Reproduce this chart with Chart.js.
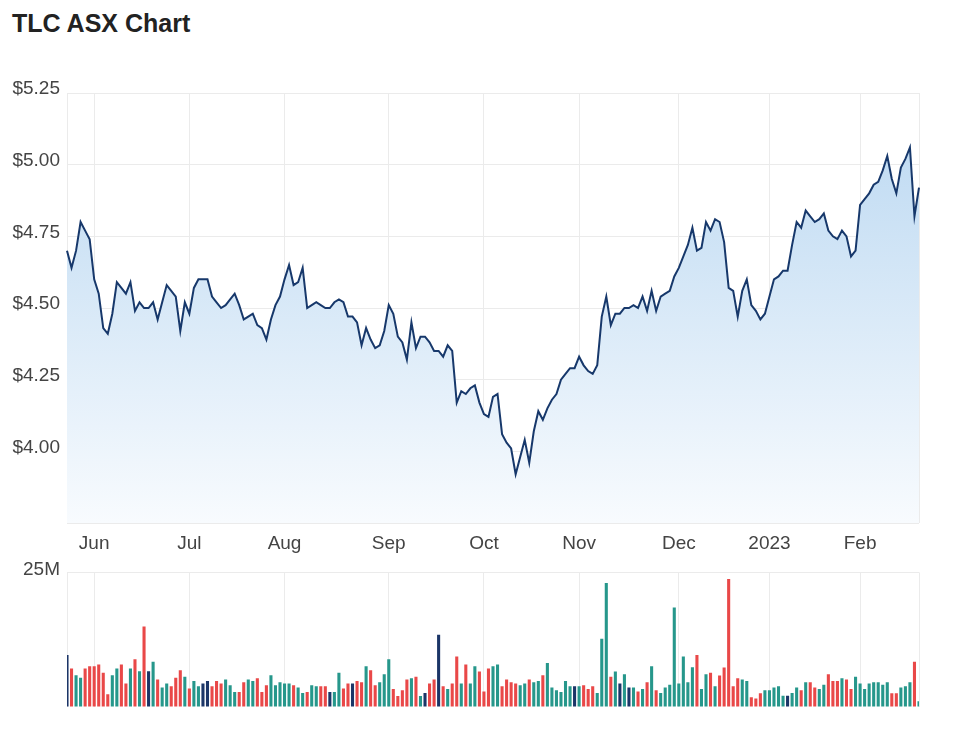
<!DOCTYPE html>
<html>
<head>
<meta charset="utf-8">
<script src="https://cdn.jsdelivr.net/npm/chart.js@4.4.1/dist/chart.umd.min.js"></script>
<style>
  body { margin: 0; background: #fff; font-family: "Liberation Sans", Arial, sans-serif; }
  #wrap { position: relative; width: 976px; height: 740px; }
  h1 { position: absolute; left: 12px; top: 11px; margin: 0; font-size: 25px; line-height: 25px; font-weight: bold; color: #222; }
  #price { position: absolute; left: 0; top: 60px; }
  #vol { position: absolute; left: 0; top: 554px; }
</style>
</head>
<body>
<div id="wrap">
  <h1>TLC ASX Chart</h1>
  <canvas id="price" width="976" height="500"></canvas>
  <canvas id="vol" width="976" height="186"></canvas>
</div>
<script>
// trading days, 24 May 2022 -> 20 Feb 2023 (ASX holidays skipped)
const startDate = "2022-05-24";
const endDate = "2023-02-20";
const holidays = ["2022-06-13", "2022-09-22", "2022-12-26", "2022-12-27", "2023-01-02", "2023-01-26"];
const monthLabels = ["Jun", "Jul", "Aug", "Sep", "Oct", "Nov", "Dec", "2023", "Feb"];

// closing price ($)
const closes = [
  4.70, 4.64, 4.70, 4.80, 4.77, 4.74, 4.60, 4.55, 4.43, 4.41,
  4.48, 4.59, 4.57, 4.55, 4.59, 4.49, 4.52, 4.50, 4.50, 4.52,
  4.46, 4.52, 4.58, 4.56, 4.54, 4.42, 4.52, 4.48, 4.57, 4.60,
  4.60, 4.60, 4.54, 4.52, 4.50, 4.51, 4.53, 4.55, 4.51, 4.46,
  4.47, 4.48, 4.44, 4.43, 4.39, 4.46, 4.51, 4.54, 4.60, 4.65,
  4.58, 4.59, 4.64, 4.50, 4.51, 4.52, 4.51, 4.50, 4.50, 4.52,
  4.53, 4.52, 4.47, 4.47, 4.45, 4.37, 4.43, 4.39, 4.36, 4.37,
  4.42, 4.51, 4.48, 4.40, 4.38, 4.32, 4.45, 4.36, 4.40, 4.40,
  4.38, 4.35, 4.35, 4.33, 4.37, 4.35, 4.17, 4.21, 4.20, 4.22,
  4.23, 4.17, 4.13, 4.12, 4.19, 4.20, 4.06, 4.03, 4.01, 3.92,
  3.98, 4.04, 3.96, 4.07, 4.14, 4.11, 4.15, 4.18, 4.20, 4.25,
  4.27, 4.29, 4.29, 4.33, 4.30, 4.28, 4.27, 4.30, 4.47, 4.54,
  4.44, 4.48, 4.48, 4.50, 4.50, 4.51, 4.50, 4.54, 4.49, 4.56,
  4.49, 4.54, 4.55, 4.56, 4.61, 4.64, 4.68, 4.72, 4.78, 4.70,
  4.71, 4.80, 4.77, 4.81, 4.80, 4.73, 4.57, 4.56, 4.47, 4.56,
  4.60, 4.51, 4.49, 4.46, 4.48, 4.54, 4.60, 4.61, 4.63, 4.63,
  4.72, 4.80, 4.78, 4.84, 4.82, 4.80, 4.81, 4.83, 4.77, 4.75,
  4.74, 4.77, 4.75, 4.68, 4.70, 4.86, 4.88, 4.90, 4.93, 4.94,
  4.98, 5.03, 4.95, 4.90, 4.99, 5.02, 5.06, 4.82, 4.92
];

// volume (millions of shares)
const volumes = [
  9.64, 7.15, 5.91, 5.41, 7.15, 7.59, 7.59, 7.90, 6.34, 2.36,
  5.91, 7.15, 7.90, 4.35, 7.15, 8.89, 6.66, 14.93, 6.66, 8.40,
  5.10, 3.61, 4.35, 3.86, 5.41, 6.84, 5.60, 3.42, 4.85, 3.86,
  4.35, 4.85, 3.86, 4.85, 4.35, 5.10, 4.04, 2.80, 2.80, 4.60,
  5.10, 4.85, 5.35, 2.80, 4.04, 5.91, 4.04, 4.60, 4.35, 4.35,
  4.04, 3.61, 2.61, 2.80, 4.04, 3.86, 3.86, 3.86, 2.80, 2.80,
  6.34, 3.42, 4.35, 4.35, 4.85, 4.60, 7.59, 6.84, 4.04, 4.60,
  6.10, 8.89, 3.36, 2.05, 3.11, 5.10, 5.35, 5.60, 2.05, 2.61,
  4.35, 5.10, 13.44, 3.86, 3.36, 4.35, 9.39, 4.35, 7.90, 4.35,
  7.59, 6.59, 2.86, 7.15, 7.59, 7.90, 3.86, 5.10, 4.60, 4.35,
  4.04, 4.35, 5.10, 4.60, 4.85, 5.91, 8.15, 3.61, 3.11, 2.80,
  4.85, 3.86, 3.86, 3.86, 4.04, 3.36, 3.86, 2.61, 12.69, 23.01,
  5.60, 6.59, 4.35, 6.10, 3.61, 3.61, 2.86, 3.36, 4.60, 7.59,
  3.11, 2.61, 3.61, 4.11, 18.47, 4.35, 9.39, 4.60, 7.40, 9.64,
  3.36, 6.10, 6.34, 3.86, 5.85, 7.34, 23.76, 3.86, 5.35, 5.10,
  4.85, 1.80, 1.56, 2.55, 3.11, 3.11, 3.61, 3.86, 2.11, 2.11,
  2.61, 3.61, 3.11, 4.60, 4.60, 3.61, 3.36, 4.11, 6.10, 4.85,
  4.85, 5.35, 5.10, 3.36, 5.60, 4.35, 3.36, 4.35, 4.60, 4.60,
  4.11, 4.60, 2.55, 2.55, 3.61, 3.86, 4.60, 8.40, 1.06
];

const UP = "#26978b";
const DOWN = "#e94848";
const FLAT = "#1b3567";
const GRID = "#ebebeb";
const TEXT = "#444";
const FONT = { family: "'Liberation Sans', Arial, sans-serif", size: 19 };

function tradingDays(from, to) {
  const out = [];
  const d = new Date(from + "T00:00:00Z");
  const end = new Date(to + "T00:00:00Z");
  while (d <= end) {
    const iso = d.toISOString().slice(0, 10);
    const wd = d.getUTCDay();
    if (wd !== 0 && wd !== 6 && !holidays.includes(iso)) out.push(iso);
    d.setUTCDate(d.getUTCDate() + 1);
  }
  return out;
}

const dates = tradingDays(startDate, endDate);

// first trading day of each month gets a tick; chart edges get an empty one
const tickLabel = {};
let m = 0;
dates.forEach((iso, i) => {
  if (i > 0 && iso.slice(5, 7) !== dates[i - 1].slice(5, 7)) tickLabel[i] = monthLabels[m++];
});
tickLabel[0] = "";
tickLabel[dates.length - 1] = "";
const tickIdx = Object.keys(tickLabel).map(Number).sort((a, b) => a - b);

const barColors = closes.map((c, i) => {
  if (i === 0 || c === closes[i - 1]) return FLAT;
  return c > closes[i - 1] ? UP : DOWN;
});

function monthAxis(showLabels) {
  return {
    offset: false,
    afterBuildTicks: (s) => { s.ticks = tickIdx.map((v) => ({ value: v })); },
    afterFit: (s) => { s.height = showLabels ? 37 : 0; },
    grid: { color: GRID, drawTicks: false, offset: false },
    border: { display: false },
    ticks: {
      display: showLabels,
      autoSkip: false,
      maxRotation: 0,
      padding: 9,
      color: TEXT,
      font: FONT,
      callback: (v) => tickLabel[v],
    },
  };
}

new Chart(document.getElementById("price"), {
  type: "line",
  data: {
    labels: dates,
    datasets: [
      {
        data: closes,
        borderColor: "#17386b",
        borderWidth: 2,
        pointRadius: 0,
        tension: 0,
        fill: "start",
        backgroundColor: (ctx) => {
          const area = ctx.chart.chartArea;
          if (!area) return "#d4e6f6";
          const g = ctx.chart.ctx.createLinearGradient(0, area.top, 0, area.bottom);
          g.addColorStop(0, "#b9d7f1");
          g.addColorStop(1, "#f8fbfe");
          return g;
        },
      },
    ],
  },
  options: {
    responsive: false,
    animation: false,
    layout: { padding: { left: 10, right: 57, top: 33, bottom: 0 } },
    plugins: { legend: { display: false }, tooltip: { enabled: false } },
    scales: {
      x: monthAxis(true),
      y: {
        min: 3.75,
        max: 5.25,
        afterFit: (s) => { s.width = 57; },
        grid: { color: GRID, drawTicks: false },
        border: { display: false },
        ticks: {
          stepSize: 0.25,
          padding: 7,
          labelOffset: -4,
          color: TEXT,
          font: FONT,
          callback: (v) => (v < 3.8 ? "" : "$" + v.toFixed(2)),
        },
      },
    },
  },
});

new Chart(document.getElementById("vol"), {
  type: "bar",
  data: {
    labels: dates,
    datasets: [
      {
        data: volumes,
        backgroundColor: barColors,
        barPercentage: 0.68,
        categoryPercentage: 1,
      },
    ],
  },
  options: {
    responsive: false,
    animation: false,
    layout: { padding: { left: 10, right: 57, top: 18, bottom: 33 } },
    plugins: { legend: { display: false }, tooltip: { enabled: false } },
    scales: {
      x: monthAxis(false),
      y: {
        min: 0,
        max: 25,
        afterFit: (s) => { s.width = 57; },
        grid: {
          drawTicks: false,
          color: (ctx) => (ctx.tick.value === 25 ? GRID : "rgba(0,0,0,0)"),
        },
        border: { display: false },
        ticks: {
          stepSize: 25,
          padding: 7,
          labelOffset: -3,
          color: TEXT,
          font: FONT,
          callback: (v) => (v === 25 ? "25M" : ""),
        },
      },
    },
  },
});
</script>
</body>
</html>
